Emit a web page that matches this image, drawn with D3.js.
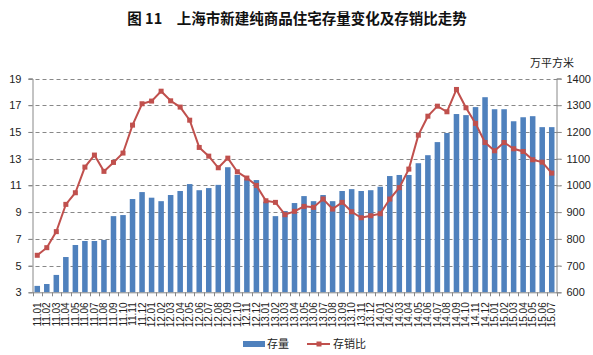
<!DOCTYPE html>
<html><head><meta charset="utf-8">
<script src="https://cdn.jsdelivr.net/npm/d3@7"></script>
<style>body{margin:0;background:#fff}</style>
</head><body>
<svg id="c" width="593" height="355"></svg>
<script>
const categories = ["11.01","11.02","11.03","11.04","11.05","11.06","11.07","11.08","11.09","11.10","11.11","11.12",
"12.01","12.02","12.03","12.04","12.05","12.06","12.07","12.08","12.09","12.10","12.11","12.12",
"13.01","13.02","13.03","13.04","13.05","13.06","13.07","13.08","13.09","13.10","13.11","13.12",
"14.01","14.02","14.03","14.04","14.05","14.06","14.07","14.08","14.09","14.10","14.11","14.12",
"15.01","15.02","15.03","15.04","15.05","15.06","15.07"];
const stock = [624,631,665,732,777,792,792,796,885,889,949,975,
954,941,964,979,1005,982,990,1002,1068,1039,1026,1020,
939,885,904,934,960,941,964,941,979,986,979,982,
995,1035,1039,1039,1083,1113,1162,1196,1267,1263,1293,1330,
1285,1285,1240,1255,1259,1218,1218];
const ratio = [5.77,6.34,7.54,9.58,10.45,12.37,13.27,12.05,12.72,13.42,15.51,17.11,
17.31,18.05,17.33,16.86,15.88,13.84,13.19,12.32,13.04,12.02,11.55,11.0,
9.85,9.73,8.81,9.06,9.43,9.36,9.98,9.23,9.73,9.03,8.58,8.73,
8.88,9.98,10.83,12.22,14.76,16.18,16.93,16.51,18.18,16.81,15.64,14.21,
13.59,14.21,13.74,13.54,12.92,12.74,11.92];
const leftTicks = [3,5,7,9,11,13,15,17,19];
const rightTicks = [600,700,800,900,1000,1100,1200,1300,1400];
const title = "图 11　上海市新建纯商品住宅存量变化及存销比走势";

const svg = d3.select("#c");
const L = 32.5, R = 556.5, T = 78.5, B = 292.3;
const x = d3.scaleBand().domain(categories).range([L, R]).paddingInner(0.42).paddingOuter(0.21);
const yL = d3.scaleLinear().domain([3,19]).range([B,T]);
const yR = d3.scaleLinear().domain([600,1400]).range([B,T]);
const font = "'Liberation Sans', Arial, 'Noto Sans CJK SC', sans-serif";

svg.append("text").attr("x",297).attr("y",24).attr("text-anchor","middle")
  .attr("font-family","'Noto Sans CJK SC', sans-serif").attr("font-weight","700")
  .attr("font-size",14.5).attr("fill","#111").text(title);

// grid
svg.append("g").selectAll("line").data(leftTicks.slice(1)).join("line")
  .attr("x1",L-4).attr("x2",R+5).attr("y1",d=>Math.round(yL(d))+0.5).attr("y2",d=>Math.round(yL(d))+0.5)
  .attr("stroke","#888").attr("stroke-dasharray","4,3").attr("stroke-width",1);

// bars
svg.append("g").selectAll("rect").data(categories).join("rect")
  .attr("x",(d)=>x(d)).attr("width",x.bandwidth())
  .attr("y",(d,i)=>yR(stock[i])).attr("height",(d,i)=>B-yR(stock[i]))
  .attr("fill","#4F81BD");

// axes
const axL = svg.append("g").attr("transform",`translate(${L},0)`)
  .call(d3.axisLeft(yL).tickValues(leftTicks).tickSize(4).tickFormat(d3.format("d")));
const axR = svg.append("g").attr("transform",`translate(${R},0)`)
  .call(d3.axisRight(yR).tickValues(rightTicks).tickSize(5).tickFormat(d3.format("d")));
const axB = svg.append("g").attr("transform",`translate(0,${B})`)
  .call(d3.axisBottom(x).tickSize(0));
[axL,axR,axB].forEach(a=>{
  a.select(".domain").attr("stroke","#888");
  a.selectAll(".tick line").attr("stroke","#888");
  a.selectAll("text").attr("font-family",font).attr("font-size",11).attr("fill","#222");
});
axL.selectAll("text").attr("x",-11);
axR.selectAll("text").attr("x",10);
axB.selectAll(".tick text").attr("transform","rotate(-90)").attr("text-anchor","end")
  .attr("x",-10).attr("y",0).attr("dy","0.35em").attr("font-size",10);
// boundary ticks on category axis
const bw = x.step();
svg.append("g").selectAll("line").data(d3.range(categories.length+1)).join("line")
  .attr("x1",i=>Math.round(L+i*bw)+0.5).attr("x2",i=>Math.round(L+i*bw)+0.5)
  .attr("y1",B).attr("y2",B+4).attr("stroke","#888");

// line
const line = d3.line().x((d,i)=>x(categories[i])+x.bandwidth()/2).y(d=>yL(d));
svg.append("path").datum(ratio).attr("d",line).attr("fill","none")
  .attr("stroke","#C0504D").attr("stroke-width",2);
svg.append("g").selectAll("rect").data(ratio).join("rect")
  .attr("x",(d,i)=>x(categories[i])+x.bandwidth()/2-2.5).attr("y",d=>yL(d)-2.5)
  .attr("width",5).attr("height",5).attr("fill","#C0504D");

// unit
svg.append("text").attr("x",552).attr("y",67).attr("text-anchor","middle")
  .attr("font-family",font).attr("font-size",11).attr("fill","#222").text("万平方米");

// legend
svg.append("rect").attr("x",243).attr("y",341).attr("width",22).attr("height",6).attr("fill","#4F81BD");
svg.append("text").attr("x",267).attr("y",348).attr("font-family",font).attr("font-size",11).attr("fill","#222").text("存量");
svg.append("line").attr("x1",307).attr("x2",330).attr("y1",344).attr("y2",344).attr("stroke","#C0504D").attr("stroke-width",2);
svg.append("rect").attr("x",316.5).attr("y",341.5).attr("width",5).attr("height",5).attr("fill","#C0504D");
svg.append("text").attr("x",333).attr("y",348).attr("font-family",font).attr("font-size",11).attr("fill","#222").text("存销比");
</script>
</body></html>
